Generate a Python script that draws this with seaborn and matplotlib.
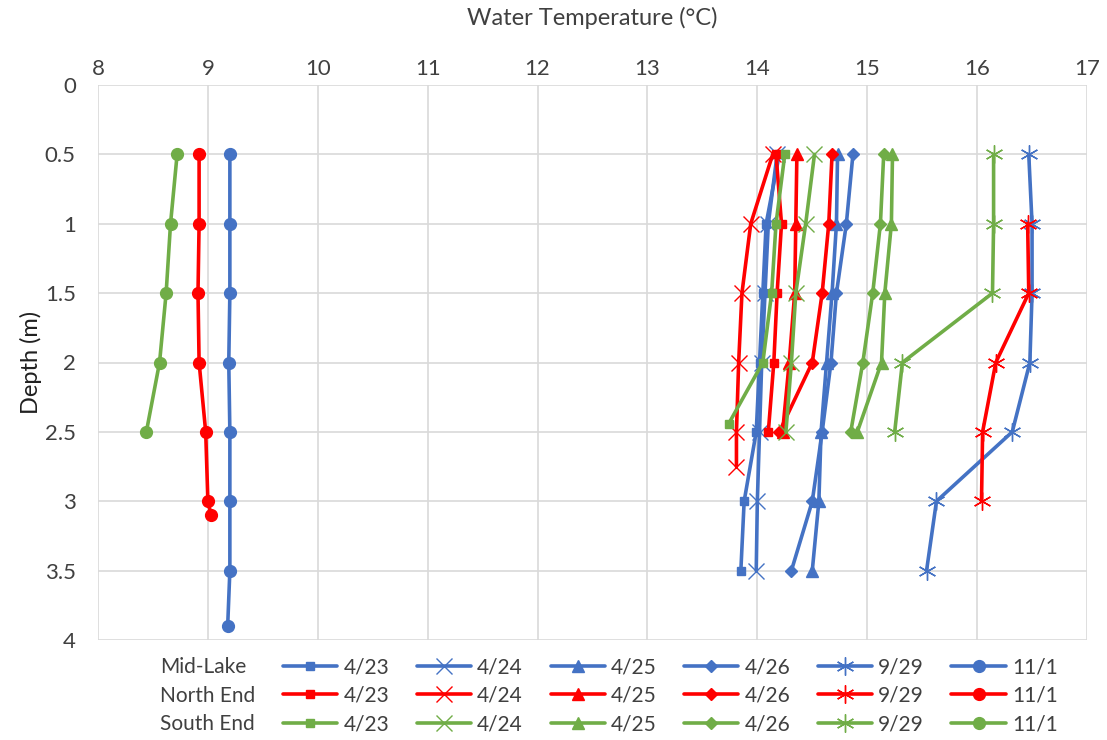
import numpy as np
import pandas as pd
import seaborn as sns
import matplotlib.pyplot as plt
from matplotlib.lines import Line2D
from matplotlib.ticker import FuncFormatter

# depths (m)
depth_std = [0.5, 1, 1.5, 2, 2.5, 3, 3.5]
depth_mid_111 = [0.5, 1, 1.5, 2, 2.5, 3, 3.5, 3.9]
depth_north_5 = [0.5, 1, 1.5, 2, 2.5]
depth_north_424 = [0.5, 1, 1.5, 2, 2.5, 2.75]
depth_north_929 = [1, 1.5, 2, 2.5, 3]
depth_north_111 = [0.5, 1, 1.5, 2, 2.5, 3, 3.1]
depth_south_423 = [0.5, 1, 1.5, 2, 2.44]

# Mid-Lake temperatures (degC)
mid_423 = [14.20, 14.08, 14.05, 14.02, 13.99, 13.88, 13.85]
mid_424 = [14.18, 14.10, 14.07, 14.04, 14.02, 14.00, 13.99]
mid_425 = [14.73, 14.72, 14.68, 14.63, 14.58, 14.56, 14.50]
mid_426 = [14.87, 14.81, 14.72, 14.67, 14.59, 14.50, 14.31]
mid_929 = [16.47, 16.50, 16.50, 16.48, 16.32, 15.63, 15.54]
mid_111 = [9.20, 9.20, 9.20, 9.19, 9.20, 9.20, 9.20, 9.18]

# North End
north_423 = [14.17, 14.22, 14.18, 14.15, 14.10]
north_424 = [14.14, 13.94, 13.86, 13.83, 13.81, 13.81]
north_425 = [14.36, 14.35, 14.34, 14.29, 14.23]
north_426 = [14.68, 14.65, 14.59, 14.50, 14.20]
north_929 = [16.46, 16.47, 16.17, 16.05, 16.04]
north_111 = [8.92, 8.92, 8.91, 8.92, 8.98, 9.00, 9.03]

# South End
south_423 = [14.25, 14.17, 14.13, 14.05, 13.74]
south_424 = [14.52, 14.44, 14.35, 14.31, 14.26]
south_425 = [15.23, 15.22, 15.16, 15.13, 14.91]
south_426 = [15.15, 15.12, 15.05, 14.96, 14.85]
south_929 = [16.15, 16.15, 16.14, 15.32, 15.25]
south_111 = [8.72, 8.66, 8.62, 8.56, 8.44]

sites = ["Mid-Lake", "North End", "South End"]
dates = ["4/23", "4/24", "4/25", "4/26", "9/29", "11/1"]
site_colors = {"Mid-Lake": "#4472C4", "North End": "#FF0000", "South End": "#70AD47"}
date_markers = {"4/23": "s", "4/24": "x", "4/25": "^", "4/26": "D",
                "9/29": (6, 2, 0), "11/1": "o"}
date_msize = {"4/23": 6, "4/24": 11, "4/25": 8.5, "4/26": 6.5, "9/29": 13, "11/1": 8.5}

series = [
    ("Mid-Lake", "4/23", depth_std, mid_423),
    ("Mid-Lake", "4/24", depth_std, mid_424),
    ("Mid-Lake", "4/25", depth_std, mid_425),
    ("Mid-Lake", "4/26", depth_std, mid_426),
    ("Mid-Lake", "9/29", depth_std, mid_929),
    ("Mid-Lake", "11/1", depth_mid_111, mid_111),
    ("North End", "4/23", depth_north_5, north_423),
    ("North End", "4/24", depth_north_424, north_424),
    ("North End", "4/25", depth_north_5, north_425),
    ("North End", "4/26", depth_north_5, north_426),
    ("North End", "9/29", depth_north_929, north_929),
    ("North End", "11/1", depth_north_111, north_111),
    ("South End", "4/23", depth_south_423, south_423),
    ("South End", "4/24", depth_north_5, south_424),
    ("South End", "4/25", depth_north_5, south_425),
    ("South End", "4/26", depth_north_5, south_426),
    ("South End", "9/29", depth_north_5, south_929),
    ("South End", "11/1", depth_north_5, south_111),
]

sns.set_style("white")
plt.rcParams['font.family'] = ['Lato', 'DejaVu Sans']

fig = plt.figure(figsize=(11.07, 7.4), dpi=100)
ax = fig.add_axes([98 / 1107, 1 - 640 / 740, (1087 - 98) / 1107, (640 - 85) / 740])

LW = 2.6

for site, date, dep, temp in series:
    df = pd.DataFrame({"temp": temp, "depth": dep})
    c = site_colors[site]
    sns.lineplot(data=df, x="temp", y="depth", sort=False, estimator=None,
                 color=c, marker=date_markers[date], markersize=date_msize[date],
                 markeredgecolor=c, markerfacecolor=c, markeredgewidth=1.0,
                 linewidth=LW, ax=ax, legend=False)

ax.set_xlim(8, 17)
ax.set_ylim(4, 0)
ax.set_xticks(range(8, 18))
ax.set_yticks(np.arange(0, 4.01, 0.5))
ax.yaxis.set_major_formatter(FuncFormatter(lambda v, p: f"{v:g}"))
ax.xaxis.tick_top()
ax.xaxis.set_label_position('top')
ax.set_xlabel("Water Temperature (°C)", fontsize=17, labelpad=25)
ax.set_ylabel("Depth (m)", fontsize=17, labelpad=2)
ax.tick_params(axis='x', length=0, labelsize=16, colors='#404040', pad=4)
ax.tick_params(axis='y', length=0, labelsize=16, colors='#404040', pad=16)
ax.xaxis.label.set_color('#404040')
ax.yaxis.label.set_color('#202020')
ax.grid(True, color='#d9d9d9', linewidth=1.2)
for s in ax.spines.values():
    s.set_visible(False)

# legend: first column holds row labels, then one column per date
handles, labels = [], []
for site in sites:
    handles.append(Line2D([], [], linestyle='none'))
    labels.append(site)
for date in dates:
    for site in sites:
        c = site_colors[site]
        handles.append(Line2D([], [], color=c, marker=date_markers[date],
                              markersize=date_msize[date], markeredgecolor=c,
                              markerfacecolor=c, markeredgewidth=1.0, linewidth=LW))
        labels.append(date)

leg = fig.legend(handles, labels, ncol=7, loc='upper left',
                 bbox_to_anchor=(100 / 1107, 1 - 657 / 740), frameon=False,
                 fontsize=15, handlelength=2.6, handletextpad=0.3,
                 columnspacing=1.32, labelspacing=0.42, borderpad=0,
                 borderaxespad=0)
for t in leg.get_texts():
    t.set_color('#404040')

fig.savefig("out.png", dpi=100)
